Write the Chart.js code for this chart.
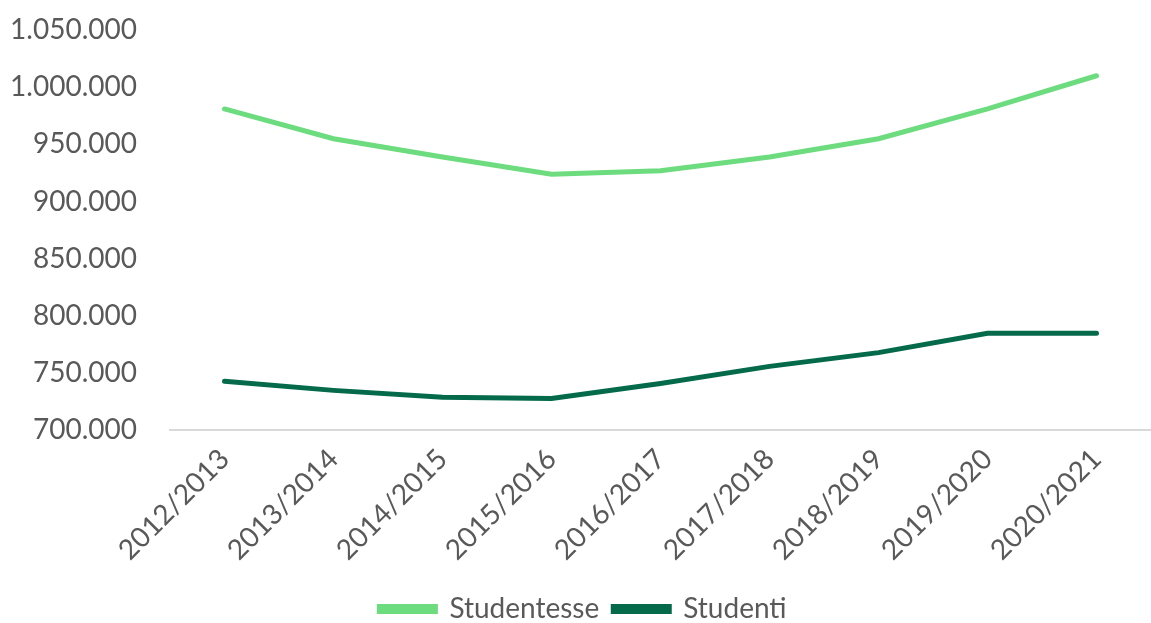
<!DOCTYPE html>
<html>
<head>
<meta charset="utf-8">
<script src="https://cdn.jsdelivr.net/npm/chart.js@4.4.1/dist/chart.umd.min.js"></script>
<style>
  html, body { margin: 0; padding: 0; background: #fff; }
  #wrap { width: 1151px; height: 623px; position: relative; overflow: hidden; }
</style>
</head>
<body>
<div id="wrap"><canvas id="studentiChart"></canvas></div>
<script>
// --- Data (anni accademici) ---
const anni = ['2012/2013', '2013/2014', '2014/2015', '2015/2016', '2016/2017', '2017/2018', '2018/2019', '2019/2020', '2020/2021'];
const studentesse = [981000, 955000, 939000, 924000, 927000, 939000, 955000, 981000, 1010000];
const studenti = [743000, 735000, 729000, 728000, 741000, 756000, 768000, 785000, 785000];
const yTicks = [700000, 750000, 800000, 850000, 900000, 950000, 1000000, 1050000];

const grey = '#595959';

function fmt(v) {
    return String(v).replace(/\B(?=(\d{3})+(?!\d))/g, '.');
}

Chart.defaults.font.family = 'Lato, "Noto Sans", sans-serif';
Chart.defaults.color = grey;

const ctx = document.getElementById('studentiChart').getContext('2d');
const chart = new Chart(ctx, {
    type: 'line',
    data: {
        labels: anni,
        datasets: [
            {
                label: 'Studentesse',
                data: studentesse,
                borderColor: '#6cdc7e',
                backgroundColor: '#6cdc7e',
                borderWidth: 5,
                pointRadius: 0,
                borderCapStyle: 'round',
                tension: 0
            },
            {
                label: 'Studenti',
                data: studenti,
                borderColor: '#046a4a',
                backgroundColor: '#046a4a',
                borderWidth: 5,
                pointRadius: 0,
                borderCapStyle: 'round',
                tension: 0
            }
        ]
    },
    options: {
        responsive: true,
        maintainAspectRatio: false,
        animation: false,
        layout: { padding: { top: 30, right: -15, left: 0, bottom: -10 } },
        plugins: {
            legend: {
                position: 'bottom',
                labels: {
                    boxWidth: 56,
                    boxHeight: 5,
                    padding: 14,
                    font: { size: 28 },
                    color: grey
                }
            },
            tooltip: { enabled: false }
        },
        scales: {
            y: {
                min: 700000,
                max: 1050000,
                afterBuildTicks: (axis) => { axis.ticks = yTicks.map(v => ({ value: v })); },
                afterFit: (axis) => {
                    axis.width = 170;
                    axis.paddingTop = 0;
                    axis.paddingBottom = 0;
                },
                border: { display: false },
                grid: { display: false },
                ticks: {
                    padding: 25,
                    font: { size: 28 },
                    color: grey,
                    callback: (val) => fmt(val)
                }
            },
            x: {
                offset: true,
                afterFit: (axis) => {
                    axis.paddingLeft = 0;
                    axis.paddingRight = 0;
                    axis.height += 10;
                },
                border: { display: true, color: '#d9d9d9', width: 2 },
                grid: { display: false },
                ticks: {
                    minRotation: 45,
                    maxRotation: 45,
                    padding: 4,
                    font: { size: 28 },
                    color: grey
                }
            }
        }
    }
});
</script>
</body>
</html>
